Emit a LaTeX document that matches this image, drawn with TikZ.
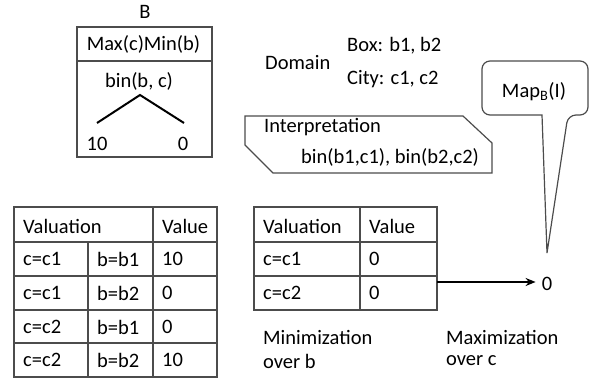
\documentclass[tikz,border=0pt]{standalone}
\usepackage{fontspec}
\setmainfont{Carlito}
\usetikzlibrary{calc, arrows.meta, positioning}

\begin{document}
\begin{tikzpicture}[x=1pt, y=-1pt, >={Stealth[length=10pt,width=8pt]},
  txt/.style={font=\fontsize{20.5}{24}\selectfont, inner sep=0pt},
  lft/.style={txt, anchor=west},
  frame/.style={draw=black!70, line width=1.2pt},
  edge/.style={draw=black, line width=2pt}]
  \useasboundingbox (0,0) rectangle (592,379);
  % Model box B
  \node[txt] (bname) at (145,12) {B};
  \draw[frame] (77,27) rectangle (212,157);
  \draw[frame] (77,61) -- (212,61);
  \node[txt] (maxmin) at (143.5,44) {Max(c)Min(b)};
  \node[txt] (bin) at (139,81) {bin(b, c)};
  \coordinate (apex) at (140,95);
  \coordinate (lleaf) at (97,123);
  \coordinate (rleaf) at (184,123);
  \draw[edge] (lleaf) -- (apex) -- (rleaf);
  \node[txt] (ten) at (97,144) {10};
  \node[txt] (zero) at (183,144) {0};
  % Domain
  \node[lft] (domain) at (265,63) {Domain};
  \node[lft] (boxes) at (347,46) {Box: b1, b2};
  \node[lft] (cities) at (347,79) {City: c1, c2};
  % Interpretation
  \draw[frame] (245,116) -- (463,116) -- (492,143) -- (492,173)
    -- (273,173) -- (245,145) -- cycle;
  \node[lft] (interp) at (264,127) {Interpretation};
  \node[lft] (facts) at (301,157) {bin(b1,c1), bin(b2,c2)};
  % Callout
  \draw[frame, rounded corners=8] (542,115) -- (482,115) -- (482,61)
    -- (588,61) -- (588,115) -- (568,115) [sharp corners] -- (547,253) -- cycle;
  \node[txt] (map) at (534,92) {Map\textsubscript{B}(I)};
  % Full valuation table
  \draw[frame] (14,207) rectangle (217,377);
  \foreach \y in {242,276,310,343}
    \draw[frame] (14,\y) -- (217,\y);
  \draw[frame] (153,207) -- (153,377);
  \draw[frame] (88,242) -- (88,377);
  \node[lft] (val) at (23,226) {Valuation};
  \node[lft] (value) at (162,226) {Value};
  \node[lft] (ca) at (23,259) {c=c1};
  \node[lft] (ba) at (97,259) {b=b1};
  \node[lft] (va) at (162,259) {10};
  \node[lft] (cb) at (23,293) {c=c1};
  \node[lft] (bb) at (97,293) {b=b2};
  \node[lft] (vb) at (162,293) {0};
  \node[lft] (cc) at (23,327) {c=c2};
  \node[lft] (bc) at (97,327) {b=b1};
  \node[lft] (vc) at (162,327) {0};
  \node[lft] (cd) at (23,360) {c=c2};
  \node[lft] (bd) at (97,360) {b=b2};
  \node[lft] (vd) at (162,360) {10};
  % Table after minimization
  \draw[frame] (254,207) rectangle (437,310);
  \foreach \y in {242,276}
    \draw[frame] (254,\y) -- (437,\y);
  \draw[frame] (360,207) -- (360,310);
  \node[lft] (mval) at (263,226) {Valuation};
  \node[lft] (mvalue) at (369,226) {Value};
  \node[lft] (mca) at (263,259) {c=c1};
  \node[lft] (mva) at (369,259) {0};
  \node[lft] (mcb) at (263,293) {c=c2};
  \node[lft] (mvb) at (369,293) {0};
  % Result of maximization
  \coordinate (tabout) at (437,282);
  \node[txt] (res) at (547,284) {0};
  \draw[edge, ->] (tabout) -- ($(tabout -| res.west)+(-6,0)$);
  \node[lft] (minlbl) at (263,337) {Minimization};
  \node[lft] (minover) at (263,361) {over b};
  \node[lft] (maxlbl) at (446,337) {Maximization};
  \node[lft] (maxover) at (446,361) {over c};
\end{tikzpicture}
\end{document}
